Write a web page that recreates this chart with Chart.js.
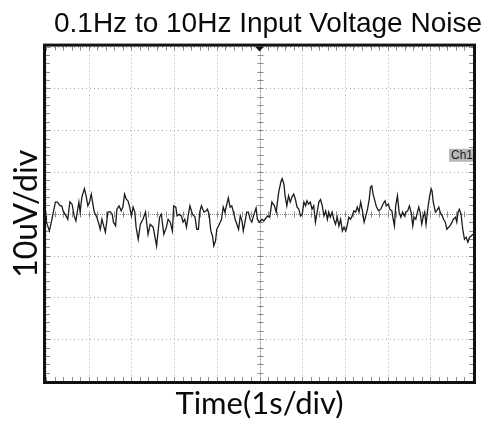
<!DOCTYPE html>
<html>
<head>
<meta charset="utf-8">
<script src="https://cdn.jsdelivr.net/npm/chart.js@4/dist/chart.umd.min.js"></script>
<style>
  html, body { margin: 0; padding: 0; background: #fff; }
  #wrap { width: 490px; height: 424px; position: relative; }
</style>
</head>
<body>
<div id="wrap"><canvas id="scope"></canvas></div>
<script>
// Scope capture: 0.1Hz-10Hz input noise, 1 s/div, 10 uV/div
var timeDivs = [0, 1, 2, 3, 4, 5, 6, 7, 8, 9, 10];        // s
var voltDivs = [-40, -30, -20, -10, 0, 10, 20, 30, 40];   // uV
var ch1Level = 14;  // uV, where the "Ch1" marker sits

// trace
var timeSec = [
	0.00, 0.01, 0.08, 0.14, 0.22, 0.27, 0.33, 0.37, 0.40, 0.47,
	0.51, 0.56, 0.61, 0.66, 0.70, 0.77, 0.80, 0.84, 0.90, 0.94,
	0.98, 1.02, 1.06, 1.09, 1.13, 1.19, 1.24, 1.27, 1.31, 1.35,
	1.39, 1.45, 1.50, 1.55, 1.58, 1.63, 1.66, 1.71, 1.76, 1.80,
	1.84, 1.88, 1.92, 1.96, 2.00, 2.04, 2.08, 2.11, 2.16, 2.21,
	2.27, 2.33, 2.39, 2.44, 2.51, 2.59, 2.66, 2.70, 2.76, 2.82,
	2.86, 2.91, 2.96, 2.99, 3.04, 3.07, 3.12, 3.17, 3.21, 3.25,
	3.29, 3.33, 3.37, 3.43, 3.49, 3.53, 3.57, 3.60, 3.64, 3.70,
	3.75, 3.78, 3.82, 3.86, 3.90, 3.93, 3.97, 4.00, 4.04, 4.08,
	4.11, 4.15, 4.19, 4.23, 4.27, 4.31, 4.35, 4.39, 4.43, 4.47,
	4.51, 4.55, 4.59, 4.62, 4.66, 4.70, 4.74, 4.78, 4.82, 4.86,
	4.92, 4.95, 5.00, 5.06, 5.10, 5.13, 5.19, 5.24, 5.29, 5.35,
	5.39, 5.45, 5.50, 5.53, 5.57, 5.60, 5.64, 5.68, 5.72, 5.76,
	5.80, 5.84, 5.88, 5.92, 5.96, 6.00, 6.04, 6.08, 6.11, 6.15,
	6.19, 6.23, 6.27, 6.31, 6.35, 6.39, 6.43, 6.47, 6.51, 6.55,
	6.59, 6.62, 6.66, 6.70, 6.74, 6.78, 6.82, 6.86, 6.90, 6.94,
	6.98, 7.02, 7.06, 7.09, 7.13, 7.17, 7.21, 7.25, 7.29, 7.33,
	7.37, 7.41, 7.45, 7.49, 7.53, 7.57, 7.60, 7.63, 7.66, 7.71,
	7.74, 7.79, 7.84, 7.89, 7.94, 7.97, 8.02, 8.05, 8.10, 8.13,
	8.16, 8.19, 8.23, 8.27, 8.31, 8.35, 8.39, 8.43, 8.47, 8.51,
	8.55, 8.59, 8.62, 8.66, 8.70, 8.73, 8.76, 8.80, 8.84, 8.87,
	8.90, 8.94, 8.98, 9.02, 9.04, 9.07, 9.12, 9.15, 9.20, 9.23,
	9.28, 9.31, 9.35, 9.39, 9.43, 9.46, 9.51, 9.54, 9.59, 9.62,
	9.65, 9.68, 9.72, 9.76, 9.80, 9.84, 9.88, 9.92, 9.96, 10.00
];
var noiseUv = [
	-0.5, -2.0, -4.1, -1.3, 2.8, 2.8, 1.9, 1.9, 0.7, -0.5,
	-1.3, 2.9, 2.3, -0.5, -1.7, 2.8, 0.4, 4.0, 6.0, 4.3,
	1.9, 2.8, 4.7, 2.8, 0.4, -0.8, -2.5, -3.7, -1.3, -2.9,
	-4.4, 0.4, 0.5, -0.1, -2.0, -2.9, 1.1, 1.9, 0.7, 1.6,
	4.7, 3.5, 3.1, 1.6, -0.5, 1.6, 0.4, -3.2, -6.1, -2.5,
	-1.3, 0.4, -4.9, -2.5, -3.2, -7.7, -0.8, -0.1, -4.9, -3.2,
	-1.3, -2.0, -4.1, 1.9, 1.6, -0.5, -0.1, -0.5, -2.0, -1.3,
	-3.2, -0.5, 1.9, -0.1, -0.8, -3.7, -3.7, 0.4, 1.9, 0.4,
	0.7, 1.1, -0.1, -4.1, -5.3, -7.7, -6.5, -3.7, -2.9, -2.0,
	-1.3, 1.6, 0.4, 2.1, 3.8, 1.6, 1.9, 0.4, -1.3, -2.5,
	-3.7, -0.5, -1.7, -4.1, -2.0, 0.4, 0.4, -1.3, -2.0, -0.5,
	1.4, -1.3, -2.0, -1.3, -1.7, -1.3, -0.5, -0.8, 2.8, 1.9,
	0.4, 5.2, 7.6, 8.4, 7.2, 4.3, 1.9, 4.3, 2.8, 4.0,
	4.7, 3.5, 1.6, 1.1, -0.5, -0.1, 2.8, 1.9, 3.1, 2.3,
	2.8, 1.1, 1.9, -2.0, 0.4, 2.8, 3.4, 1.9, -0.5, 0.7,
	-1.3, 0.4, -0.8, 0.4, -1.3, -2.5, -0.8, -2.9, -1.3, -4.1,
	-3.2, -4.1, -2.5, -0.8, -1.3, -0.5, 0.7, 0.4, 1.6, 0.4,
	2.8, 0.7, -2.0, -0.5, 1.1, 3.5, 6.4, 6.7, 4.7, 2.8,
	1.6, 0.7, 1.1, 2.3, 3.1, 1.9, 2.3, 1.1, 0.7, -1.3,
	-2.9, 1.9, 4.3, 0.4, -0.8, 0.4, -0.5, 0.4, 0.7, 1.9,
	0.4, -2.9, -0.8, -1.3, 0.4, 1.6, 0.4, -2.5, -0.5, 0.4,
	-2.5, 1.1, 4.0, 6.0, 5.5, 2.8, 0.4, 0.7, 1.6, 0.4,
	-0.5, -1.3, -2.0, -3.7, -3.2, -2.9, -2.0, -1.3, -0.8, -2.0,
	0.4, 1.1, -0.1, -3.7, -6.1, -5.6, -6.8, -5.6, -5.3, -4.9
];

function line(ctx, x1, y1, x2, y2) {
	ctx.beginPath();
	ctx.moveTo(x1, y1);
	ctx.lineTo(x2, y2);
	ctx.stroke();
}

// dotted graticule, centre crosshair and the little 1/5 div ticks
var graticule = {
	id: 'graticule',
	beforeDatasetsDraw: function(chart) {
		var ctx = chart.ctx, a = chart.chartArea, xs = chart.scales.x, ys = chart.scales.y;
		var cx = Math.round(xs.getPixelForValue(5)) + 0.5;
		var cy = Math.round(ys.getPixelForValue(0)) + 0.5;
		ctx.save();
		ctx.lineWidth = 1;
		ctx.strokeStyle = '#a8a8a8';
		ctx.setLineDash([1, 3]);
		timeDivs.forEach(function(t) {
			var px = Math.round(xs.getPixelForValue(t)) + 0.5;
			line(ctx, px, a.top, px, a.bottom);
		});
		voltDivs.forEach(function(v) {
			var py = Math.round(ys.getPixelForValue(v)) + 0.5;
			line(ctx, a.left, py, a.right, py);
		});
		ctx.setLineDash([1, 1]);
		ctx.strokeStyle = '#8a8a8a';
		line(ctx, cx, a.top, cx, a.bottom);
		line(ctx, a.left, cy, a.right, cy);

		ctx.setLineDash([]);
		ctx.strokeStyle = '#8a8a8a';
		for (var t = 0; t <= 10.001; t += 0.2) {
			var px = Math.round(xs.getPixelForValue(t)) + 0.5;
			line(ctx, px, cy - 3, px, cy + 3);
			line(ctx, px, a.top, px, a.top + 4);
			line(ctx, px, a.bottom - 4, px, a.bottom);
		}
		for (var v = -40; v <= 40.001; v += 2) {
			var py = Math.round(ys.getPixelForValue(v)) + 0.5;
			line(ctx, cx - 3, py, cx + 3, py);
			line(ctx, a.left, py, a.left + 4, py);
			line(ctx, a.right - 4, py, a.right, py);
		}
		ctx.restore();
	},
	afterDatasetsDraw: function(chart) {
		var ctx = chart.ctx, a = chart.chartArea, ys = chart.scales.y;
		var py = ys.getPixelForValue(ch1Level);
		ctx.save();
		ctx.fillStyle = '#b8b8b8';
		ctx.fillRect(a.right - 24, py - 6.5, 24, 13);
		ctx.fillStyle = '#1a1a1a';
		ctx.font = '12px "Liberation Sans", Arial, sans-serif';
		ctx.textBaseline = 'middle';
		ctx.fillText('Ch1', a.right - 22, py + 0.5);
		ctx.restore();
	},
	afterDraw: function(chart) {
		var ctx = chart.ctx, a = chart.chartArea, xs = chart.scales.x;
		var mx = xs.getPixelForValue(5);
		ctx.save();
		ctx.strokeStyle = '#111';
		ctx.lineWidth = 3;
		ctx.strokeRect(a.left - 1.5, a.top - 1.5, a.right - a.left + 3, a.bottom - a.top + 3);
		// trigger position marker
		ctx.fillStyle = '#111';
		ctx.beginPath();
		ctx.moveTo(mx - 4.5, a.top);
		ctx.lineTo(mx + 4.5, a.top);
		ctx.lineTo(mx, a.top + 5);
		ctx.closePath();
		ctx.fill();
		ctx.restore();
	}
};

var chart = new Chart(document.getElementById('scope'), {
	type: 'line',
	data: {
		datasets: [{
			data: timeSec.map(function(t, i) { return {x: t, y: noiseUv[i]}; }),
			borderColor: '#1c1c1c',
			borderWidth: 1.3,
			pointRadius: 0,
			tension: 0,
			fill: false
		}]
	},
	options: {
		responsive: true,
		maintainAspectRatio: false,
		animation: false,
		layout: {padding: {top: 4, right: 8, bottom: 0, left: 0}},
		plugins: {
			legend: {display: false},
			tooltip: {enabled: false},
			title: {
				display: true,
				text: '0.1Hz to 10Hz Input Voltage Noise',
				align: 'end',
				color: '#0a0a0a',
				font: {family: '"Liberation Sans", Arial, sans-serif', size: 28, weight: 'normal'},
				padding: {top: 3, bottom: 6}
			}
		},
		scales: {
			x: {
				type: 'linear', min: 0, max: 10,
				ticks: {display: false, stepSize: 1},
				grid: {display: false},
				border: {display: false},
				title: {
					display: true, text: 'Time(1s/div)', color: '#0a0a0a',
					font: {family: 'Lato, "Open Sans", sans-serif', size: 31},
					padding: {top: 0, bottom: 1}
				},
				afterFit: function(s) { s.height = 43; }
			},
			y: {
				type: 'linear', min: -40, max: 40,
				ticks: {display: false, stepSize: 10},
				grid: {display: false},
				border: {display: false},
				title: {
					display: true, text: '10uV/div', color: '#0a0a0a',
					font: {family: 'Lato, "Open Sans", sans-serif', size: 32},
					padding: {top: 7, bottom: 0}
				},
				afterFit: function(s) { s.width = 46; }
			},
			yr: {
				type: 'linear', position: 'right',
				ticks: {display: false},
				grid: {display: false},
				border: {display: false},
				afterFit: function(s) { s.width = 9; }
			}
		}
	},
	plugins: [graticule]
});
</script>
</body>
</html>
